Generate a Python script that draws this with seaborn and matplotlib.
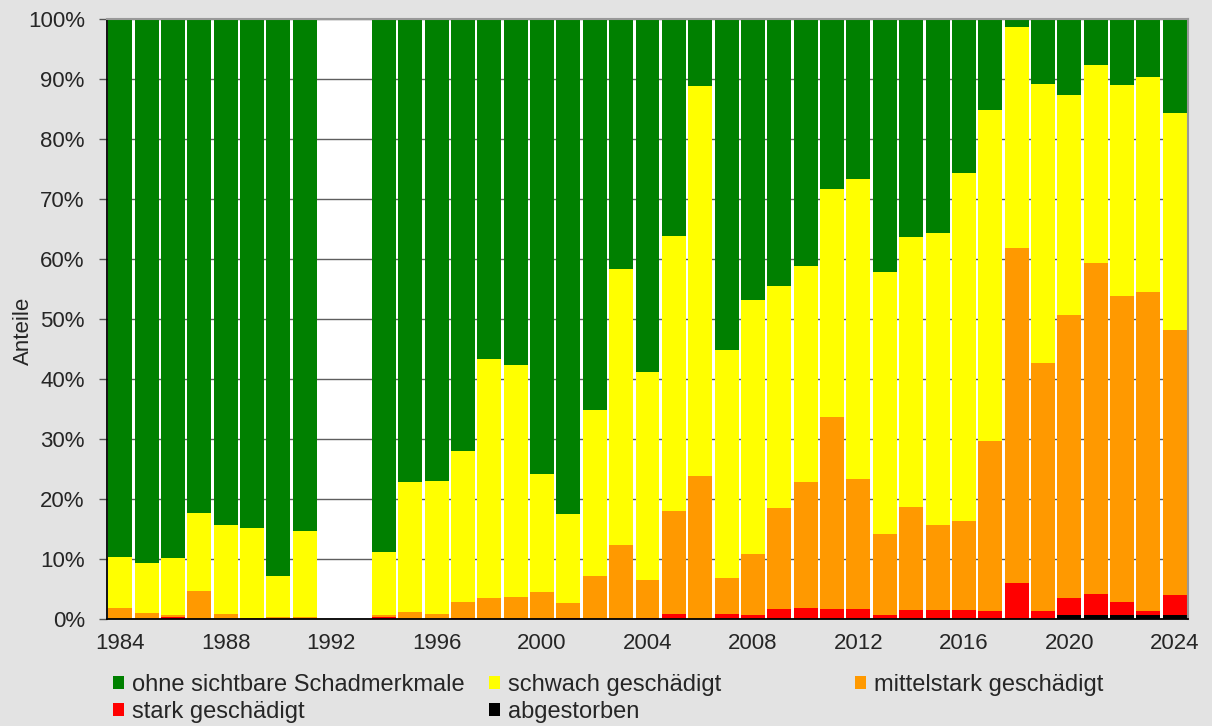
import numpy as np
import pandas as pd
import matplotlib
matplotlib.use("Agg")
import matplotlib.pyplot as plt
import seaborn as sns
from matplotlib.patches import Patch
from matplotlib.ticker import FixedLocator, PercentFormatter

# ---------------- data (percent shares) ----------------
years = [1984, 1985, 1986, 1987, 1988, 1989, 1990, 1991,
         1994, 1995, 1996, 1997, 1998, 1999, 2000, 2001, 2002, 2003, 2004,
         2005, 2006, 2007, 2008, 2009, 2010, 2011, 2012, 2013, 2014,
         2015, 2016, 2017, 2018, 2019, 2020, 2021, 2022, 2023, 2024]
ohne = [89.7, 90.7, 89.8, 82.4, 84.4, 84.9, 92.8, 85.3,
        88.9, 77.1, 77.0, 72.0, 56.6, 57.7, 75.9, 82.5, 65.2, 41.6, 58.9,
        36.2, 11.1, 55.2, 46.9, 44.5, 41.2, 28.4, 26.6, 42.1, 36.3,
        35.6, 25.6, 15.1, 1.4, 10.8, 12.7, 7.6, 11.0, 9.7, 15.7]
schwach = [8.4, 8.3, 9.6, 13.0, 14.7, 15.0, 6.9, 14.4,
           10.5, 21.7, 22.1, 25.2, 39.9, 38.7, 19.6, 14.8, 27.7, 46.0, 34.6,
           45.8, 65.1, 38.0, 42.3, 37.0, 36.0, 38.0, 50.1, 43.7, 45.0,
           48.8, 58.1, 55.3, 36.7, 46.5, 36.6, 33.1, 35.2, 35.8, 36.2]
mittelstark = [1.9, 1.0, 0.3, 4.6, 0.9, 0.1, 0.3, 0.3,
               0.3, 1.2, 0.9, 2.6, 3.5, 3.6, 4.5, 2.5, 7.1, 12.4, 6.3,
               17.1, 23.8, 5.9, 10.1, 16.8, 21.0, 31.9, 21.6, 13.5, 17.2,
               14.1, 14.8, 28.2, 55.9, 41.3, 47.2, 55.2, 51.0, 53.1, 44.1]
stark = [0.0, 0.0, 0.3, 0.0, 0.0, 0.0, 0.0, 0.0,
         0.3, 0.0, 0.0, 0.2, 0.0, 0.0, 0.0, 0.2, 0.0, 0.0, 0.2,
         0.9, 0.0, 0.9, 0.7, 1.7, 1.8, 1.7, 1.7, 0.7, 1.5,
         1.5, 1.5, 1.4, 6.0, 1.4, 2.8, 3.4, 2.1, 0.7, 3.3]
abgestorben = [0.0] * 34 + [0.7, 0.7, 0.7, 0.7, 0.7]

all_years = list(range(1984, 2025))
labels = ["ohne sichtbare Schadmerkmale", "schwach geschädigt",
          "mittelstark geschädigt", "stark geschädigt", "abgestorben"]
colors = ["#008000", "#ffff00", "#ff9900", "#ff0000", "#000000"]

# ---------------- figure ----------------
sns.set_style("white")
plt.rcParams["font.family"] = ["Liberation Sans", "DejaVu Sans"]

df = pd.DataFrame({"year": [str(y) for y in years],
                   "ohne": ohne, "schwach": schwach, "mittel": mittelstark,
                   "stark": stark, "abg": abgestorben})
df["c5"] = df["abg"]
df["c4"] = df["c5"] + df["stark"]
df["c3"] = df["c4"] + df["mittel"]
df["c2"] = df["c3"] + df["schwach"]
df["c1"] = df["c2"] + df["ohne"]

order = [str(y) for y in all_years]

fig = plt.figure(figsize=(12.12, 7.26), dpi=100, facecolor="#e3e3e3")
ax = fig.add_axes([107 / 1212, 1 - 619 / 726, 1081 / 1212, 600 / 726])
ax.set_facecolor("white")
ax.set_axisbelow(True)

for col, c in zip(["c1", "c2", "c3", "c4", "c5"], colors):
    sns.barplot(data=df, x="year", y=col, order=order, color=c, saturation=1,
                width=0.91, errorbar=None, linewidth=0, ax=ax)

ax.set_xlim(-0.5, len(all_years) - 0.5)
ax.set_ylim(0, 100)
ax.yaxis.grid(True, color="#5e5e5e", linewidth=1.0)
ax.xaxis.grid(False)

ax.set_yticks(range(0, 101, 10))
ax.yaxis.set_major_formatter(PercentFormatter(decimals=0))

pos = [i for i, y in enumerate(all_years) if y % 4 == 0]
ax.set_xticks(pos, [str(all_years[i]) for i in pos])
ax.xaxis.set_minor_locator(FixedLocator(np.arange(-0.5, len(all_years), 1.0)))
ax.tick_params(axis="x", which="major", length=0, pad=10, labelsize=16)
ax.tick_params(axis="x", which="minor", length=6, width=1.2, color="#808080")
ax.tick_params(axis="y", which="major", length=6, width=1.0, color="#555555",
               pad=10, labelsize=16, left=True)

for s in ["left", "bottom"]:
    ax.spines[s].set_color("black")
    ax.spines[s].set_linewidth(1.3)
for s in ["top", "right"]:
    ax.spines[s].set_visible(True)
    ax.spines[s].set_color("#999999")
    ax.spines[s].set_linewidth(1.5)

ax.set_xlabel("")
ax.set_ylabel("Anteile", fontsize=16)
ax.yaxis.set_label_coords(-0.068, 0.48)

# ---------------- legend (three fixed-width columns) ----------------
handles = [Patch(facecolor=c, edgecolor="none") for c in colors]
columns = [([0, 3], 113 / 1212), ([1, 4], 489 / 1212), ([2], 855 / 1212)]
for idx, x in columns:
    fig.legend([handles[i] for i in idx], [labels[i] for i in idx],
               loc="upper left", bbox_to_anchor=(x, 1 - 674 / 726),
               frameon=False, fontsize=17, borderpad=0, borderaxespad=0,
               handlelength=0.45, handleheight=0.45, handletextpad=0.35,
               labelspacing=0.22)

fig.savefig("out.png", dpi=100, facecolor=fig.get_facecolor())
